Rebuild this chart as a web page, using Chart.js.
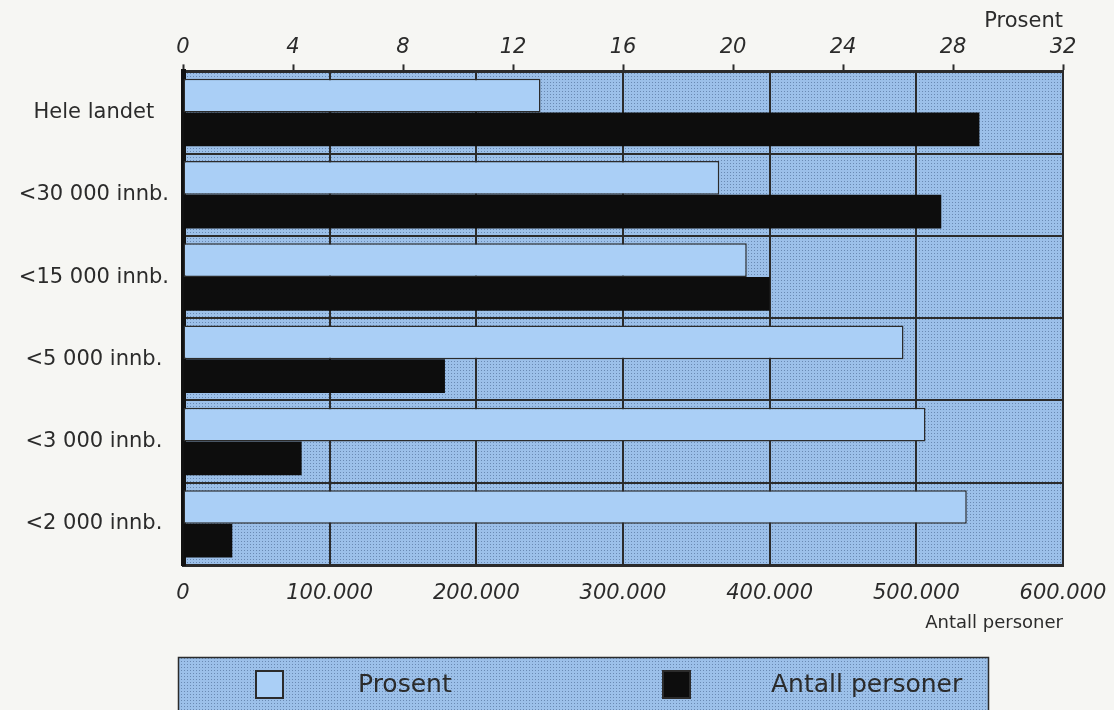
<!DOCTYPE html>
<html>
<head>
<meta charset="utf-8">
<script src="https://cdn.jsdelivr.net/npm/chart.js@4/dist/chart.umd.min.js"></script>
<style>
  html, body { margin: 0; padding: 0; background: #f6f6f3; }
  #wrap { width: 1114px; height: 710px; position: relative; }
</style>
</head>
<body>
<div id="wrap"><canvas id="c"></canvas></div>
<script>
// Categories (municipality size) and the two series
const categories = ['Hele landet', '<30 000 innb.', '<15 000 innb.', '<5 000 innb.', '<3 000 innb.', '<2 000 innb.'];
const prosent = [13.0, 19.5, 20.5, 26.2, 27.0, 28.5];
const antallPersoner = [543000, 517000, 400000, 178600, 80900, 33600];
const seriesNames = ['Prosent', 'Antall personer'];

const INK = '#2b2b2b';
const LIGHT_BAR = '#aacff6';
const tickFont = { family: 'DejaVu Sans', size: 21, style: 'italic' };
const labelFont = { family: 'DejaVu Sans', size: 21 };

// Fine dot screen used for the plot area and the legend panel
function makeStipple(ctx) {
  const c = document.createElement('canvas');
  c.width = 3; c.height = 3;
  const g = c.getContext('2d');
  g.fillStyle = '#9cc0e9';
  g.fillRect(0, 0, 3, 3);
  g.fillStyle = '#6a8ab3';
  g.fillRect(1, 1, 1, 1);
  return ctx.createPattern(c, 'repeat');
}

function thousands(v) {
  return String(v).replace(/\B(?=(\d{3})+(?!\d))/g, '.');
}

const plotBackground = {
  id: 'plotBackground',
  beforeDraw(chart) {
    const { ctx, chartArea: a } = chart;
    ctx.save();
    ctx.fillStyle = makeStipple(ctx);
    ctx.fillRect(a.left, a.top, a.right - a.left, a.bottom - a.top);
    ctx.restore();
  }
};

// Legend panel below the plot
const legendPanel = {
  id: 'legendPanel',
  afterDraw(chart) {
    const ctx = chart.ctx;
    ctx.save();
    ctx.fillStyle = makeStipple(ctx);
    ctx.fillRect(178, 657, 810, 60);
    ctx.strokeStyle = INK;
    ctx.lineWidth = 1.5;
    ctx.strokeRect(178.5, 657.5, 810, 60);
    const slots = [{ box: 256, text: 358 }, { box: 663, text: 771 }];
    chart.data.datasets.forEach((ds, i) => {
      const s = slots[i];
      ctx.fillStyle = ds.backgroundColor;
      ctx.fillRect(s.box, 671, 27, 27);
      ctx.strokeStyle = INK;
      ctx.lineWidth = 2;
      ctx.strokeRect(s.box, 671, 27, 27);
      ctx.fillStyle = INK;
      ctx.font = '25px "DejaVu Sans"';
      ctx.textBaseline = 'middle';
      ctx.textAlign = 'left';
      ctx.fillText(ds.label, s.text, 685);
    });
    ctx.restore();
  }
};

// Room kept right of the plot for the half-width of the last tick label
const RIGHT_GUTTER = 51;

new Chart(document.getElementById('c'), {
  type: 'bar',
  data: {
    labels: categories,
    datasets: [
      {
        label: seriesNames[0],
        data: prosent,
        xAxisID: 'xTop',
        backgroundColor: LIGHT_BAR,
        borderColor: INK,
        borderWidth: 1.5,
        borderSkipped: false,
        categoryPercentage: 0.82,
        barPercentage: 1.0
      },
      {
        label: seriesNames[1],
        data: antallPersoner,
        xAxisID: 'x',
        backgroundColor: '#0d0d0d',
        borderWidth: 0,
        categoryPercentage: 0.82,
        barPercentage: 1.0
      }
    ]
  },
  options: {
    indexAxis: 'y',
    responsive: true,
    maintainAspectRatio: false,
    animation: false,
    layout: { padding: { left: 0, right: 0, top: 9, bottom: 76 } },
    plugins: {
      legend: { display: false },
      tooltip: { enabled: false }
    },
    scales: {
      x: {
        position: 'bottom',
        min: 0,
        max: 600000,
        ticks: {
          stepSize: 100000,
          color: INK,
          font: tickFont,
          padding: 16,
          maxRotation: 0,
          callback: v => thousands(v)
        },
        grid: { color: INK, lineWidth: 2, drawTicks: false },
        border: { display: true, color: INK, width: 3 },
        title: {
          display: true,
          text: seriesNames[1],
          align: 'end',
          color: INK,
          font: { family: 'DejaVu Sans', size: 18 },
          padding: { top: 2, bottom: 0 }
        },
        afterFit: s => { s.height = 69; s.paddingRight = RIGHT_GUTTER; }
      },
      xTop: {
        position: 'top',
        min: 0,
        max: 32,
        ticks: {
          stepSize: 4,
          color: INK,
          font: tickFont,
          padding: 4,
          maxRotation: 0
        },
        grid: {
          drawOnChartArea: false,
          drawTicks: true,
          tickLength: 7,
          tickColor: INK,
          tickWidth: 2
        },
        border: { display: true, color: INK, width: 3 },
        title: {
          display: true,
          text: seriesNames[0],
          align: 'end',
          color: INK,
          font: { family: 'DejaVu Sans', size: 21 },
          padding: { top: 0, bottom: -3 }
        },
        afterFit: s => { s.paddingRight = RIGHT_GUTTER; }
      },
      y: {
        ticks: {
          color: INK,
          font: labelFont,
          crossAlign: 'center',
          padding: 14
        },
        grid: { color: INK, lineWidth: 2, drawTicks: false },
        border: { display: true, color: '#111', width: 5 },
        afterFit: s => { s.width = 183; }
      }
    }
  },
  plugins: [plotBackground, legendPanel]
});
</script>
</body>
</html>
